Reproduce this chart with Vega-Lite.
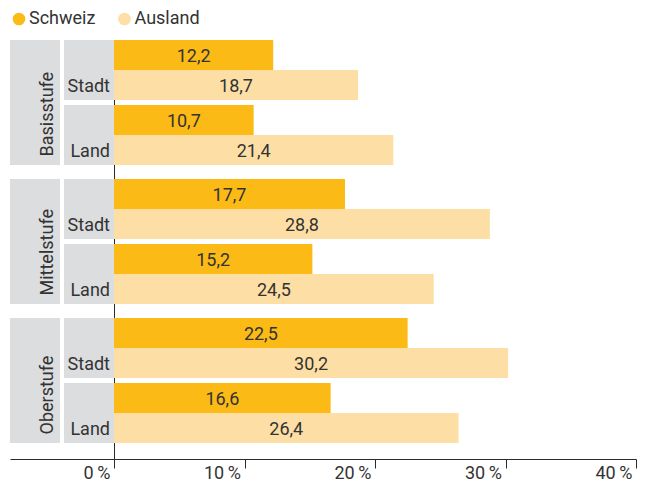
{
  "$schema": "https://vega.github.io/schema/vega-lite/v6.json",
  "padding": {"left": 10, "top": 10, "right": 0, "bottom": 0},
  "datasets": {
    "d": [
      {"Stufe": "Basisstufe", "Ort": "Stadt", "Herkunft": "Schweiz", "Wert": 12.2},
      {"Stufe": "Basisstufe", "Ort": "Stadt", "Herkunft": "Ausland", "Wert": 18.7},
      {"Stufe": "Basisstufe", "Ort": "Land", "Herkunft": "Schweiz", "Wert": 10.7},
      {"Stufe": "Basisstufe", "Ort": "Land", "Herkunft": "Ausland", "Wert": 21.4},
      {"Stufe": "Mittelstufe", "Ort": "Stadt", "Herkunft": "Schweiz", "Wert": 17.7},
      {"Stufe": "Mittelstufe", "Ort": "Stadt", "Herkunft": "Ausland", "Wert": 28.8},
      {"Stufe": "Mittelstufe", "Ort": "Land", "Herkunft": "Schweiz", "Wert": 15.2},
      {"Stufe": "Mittelstufe", "Ort": "Land", "Herkunft": "Ausland", "Wert": 24.5},
      {"Stufe": "Oberstufe", "Ort": "Stadt", "Herkunft": "Schweiz", "Wert": 22.5},
      {"Stufe": "Oberstufe", "Ort": "Stadt", "Herkunft": "Ausland", "Wert": 30.2},
      {"Stufe": "Oberstufe", "Ort": "Land", "Herkunft": "Schweiz", "Wert": 16.6},
      {"Stufe": "Oberstufe", "Ort": "Land", "Herkunft": "Ausland", "Wert": 26.4}
    ]
  },
  "config": {
    "font": "Roboto",
    "view": {"stroke": null},
    "axis": {"grid": false, "domainColor": "#2b2b2b", "tickColor": "#2b2b2b", "labelColor": "#333333"},
    "locale": {"number": {"decimal": ",", "thousands": "'", "grouping": [3], "currency": ["", " CHF"]}},
    "legend": {
      "orient": "top", "title": null, "direction": "horizontal", "symbolType": "circle",
      "symbolSize": 160, "symbolStrokeWidth": 0, "labelFontSize": 18, "labelColor": "#333333",
      "labelOffset": 1, "columnPadding": 19.5, "offset": 12, "padding": 0
    }
  },
  "spacing": 0,
  "vconcat": [
    {
      "bounds": "flush",
      "spacing": 0,
      "hconcat": [
        {
          "width": 104, "height": 139,
          "data": {"name": "d"},
          "transform": [{"filter": "datum.Stufe === 'Basisstufe' && datum.Herkunft === 'Schweiz'"}],
          "layer": [
            {
              "layer": [
                {
                  "mark": {"type": "rect", "color": "#dcdddf"},
                  "encoding": {
                    "x": {"datum": "Stufe", "type": "nominal", "scale": {"type": "band", "domain": ["Stufe", "Ort"], "paddingInner": 0.074, "paddingOuter": 0}, "axis": null},
                    "y": {"field": "Stufe", "type": "nominal", "scale": {"type": "band", "paddingInner": 0, "paddingOuter": 0.056, "align": 0}, "axis": null}
                  }
                },
                {
                  "transform": [{"filter": "datum.Ort === 'Stadt'"}],
                  "mark": {"type": "text", "angle": 270, "align": "left", "baseline": "alphabetic", "dx": -54, "dy": 18, "fontSize": 18, "color": "#333333"},
                  "encoding": {
                    "x": {"datum": "Stufe", "type": "nominal"},
                    "y": {"field": "Stufe", "type": "nominal"},
                    "text": {"field": "Stufe"}
                  }
                }
              ]
            },
            {
              "layer": [
                {
                  "mark": {"type": "rect", "color": "#dcdddf"},
                  "encoding": {
                    "x": {"datum": "Ort", "type": "nominal"},
                    "y": {"field": "Ort", "type": "nominal", "sort": ["Stadt", "Land"], "scale": {"type": "band", "paddingInner": 0.0769, "paddingOuter": 0.1077, "align": 0}, "axis": null}
                  }
                },
                {
                  "mark": {"type": "text", "align": "right", "baseline": "middle", "dx": 21, "dy": 2, "fontSize": 18, "color": "#333333"},
                  "encoding": {
                    "x": {"datum": "Ort", "type": "nominal"},
                    "y": {"field": "Ort", "type": "nominal", "sort": ["Stadt", "Land"], "bandPosition": 0.75},
                    "text": {"field": "Ort"}
                  }
                }
              ]
            }
          ],
          "resolve": {"scale": {"y": "independent"}, "axis": {"y": "independent"}}
        },
        {
          "width": 522, "height": 139,
          "data": {"name": "d"},
          "transform": [{"filter": "datum.Stufe === 'Basisstufe'"}],
          "layer": [
            {
              "mark": {"type": "bar"},
              "encoding": {
                "y": {"field": "Ort", "type": "nominal", "sort": ["Stadt", "Land"], "scale": {"paddingInner": 0.0769, "paddingOuter": 0.1077, "align": 0}, "axis": {"domain": true, "ticks": false, "labels": false, "title": null}},
                "yOffset": {"field": "Herkunft", "type": "nominal", "sort": ["Schweiz", "Ausland"], "scale": {"paddingInner": 0, "paddingOuter": 0}},
                "x": {"field": "Wert", "type": "quantitative", "scale": {"domain": [0, 40]}, "axis": null},
                "color": {"field": "Herkunft", "type": "nominal", "sort": ["Schweiz", "Ausland"], "scale": {"domain": ["Schweiz", "Ausland"], "range": ["#fbba16", "#fddfa5"]}}
              }
            },
            {
              "mark": {"type": "text", "baseline": "middle", "align": "center", "dy": 2, "fontSize": 18, "color": "#333333"},
              "encoding": {
                "y": {"field": "Ort", "type": "nominal", "sort": ["Stadt", "Land"]},
                "yOffset": {"field": "Herkunft", "type": "nominal", "sort": ["Schweiz", "Ausland"]},
                "x": {"field": "Wert", "type": "quantitative", "scale": {"domain": [0, 80]}, "axis": null},
                "text": {"field": "Wert", "type": "quantitative", "format": ".1f"}
              }
            }
          ],
          "resolve": {"scale": {"x": "independent"}}
        }
      ]
    },
    {
      "bounds": "flush",
      "spacing": 0,
      "hconcat": [
        {
          "width": 104, "height": 139,
          "data": {"name": "d"},
          "transform": [{"filter": "datum.Stufe === 'Mittelstufe' && datum.Herkunft === 'Schweiz'"}],
          "layer": [
            {
              "layer": [
                {
                  "mark": {"type": "rect", "color": "#dcdddf"},
                  "encoding": {
                    "x": {"datum": "Stufe", "type": "nominal", "scale": {"type": "band", "domain": ["Stufe", "Ort"], "paddingInner": 0.074, "paddingOuter": 0}, "axis": null},
                    "y": {"field": "Stufe", "type": "nominal", "scale": {"type": "band", "paddingInner": 0, "paddingOuter": 0.056, "align": 0}, "axis": null}
                  }
                },
                {
                  "transform": [{"filter": "datum.Ort === 'Stadt'"}],
                  "mark": {"type": "text", "angle": 270, "align": "left", "baseline": "alphabetic", "dx": -54, "dy": 18, "fontSize": 18, "color": "#333333"},
                  "encoding": {
                    "x": {"datum": "Stufe", "type": "nominal"},
                    "y": {"field": "Stufe", "type": "nominal"},
                    "text": {"field": "Stufe"}
                  }
                }
              ]
            },
            {
              "layer": [
                {
                  "mark": {"type": "rect", "color": "#dcdddf"},
                  "encoding": {
                    "x": {"datum": "Ort", "type": "nominal"},
                    "y": {"field": "Ort", "type": "nominal", "sort": ["Stadt", "Land"], "scale": {"type": "band", "paddingInner": 0.0769, "paddingOuter": 0.1077, "align": 0}, "axis": null}
                  }
                },
                {
                  "mark": {"type": "text", "align": "right", "baseline": "middle", "dx": 21, "dy": 2, "fontSize": 18, "color": "#333333"},
                  "encoding": {
                    "x": {"datum": "Ort", "type": "nominal"},
                    "y": {"field": "Ort", "type": "nominal", "sort": ["Stadt", "Land"], "bandPosition": 0.75},
                    "text": {"field": "Ort"}
                  }
                }
              ]
            }
          ],
          "resolve": {"scale": {"y": "independent"}, "axis": {"y": "independent"}}
        },
        {
          "width": 522, "height": 139,
          "data": {"name": "d"},
          "transform": [{"filter": "datum.Stufe === 'Mittelstufe'"}],
          "layer": [
            {
              "mark": {"type": "bar"},
              "encoding": {
                "y": {"field": "Ort", "type": "nominal", "sort": ["Stadt", "Land"], "scale": {"paddingInner": 0.0769, "paddingOuter": 0.1077, "align": 0}, "axis": {"domain": true, "ticks": false, "labels": false, "title": null}},
                "yOffset": {"field": "Herkunft", "type": "nominal", "sort": ["Schweiz", "Ausland"], "scale": {"paddingInner": 0, "paddingOuter": 0}},
                "x": {"field": "Wert", "type": "quantitative", "scale": {"domain": [0, 40]}, "axis": null},
                "color": {"field": "Herkunft", "type": "nominal", "sort": ["Schweiz", "Ausland"], "scale": {"domain": ["Schweiz", "Ausland"], "range": ["#fbba16", "#fddfa5"]}}
              }
            },
            {
              "mark": {"type": "text", "baseline": "middle", "align": "center", "dy": 2, "fontSize": 18, "color": "#333333"},
              "encoding": {
                "y": {"field": "Ort", "type": "nominal", "sort": ["Stadt", "Land"]},
                "yOffset": {"field": "Herkunft", "type": "nominal", "sort": ["Schweiz", "Ausland"]},
                "x": {"field": "Wert", "type": "quantitative", "scale": {"domain": [0, 80]}, "axis": null},
                "text": {"field": "Wert", "type": "quantitative", "format": ".1f"}
              }
            }
          ],
          "resolve": {"scale": {"x": "independent"}}
        }
      ]
    },
    {
      "bounds": "flush",
      "spacing": 0,
      "hconcat": [
        {
          "width": 104, "height": 141,
          "data": {"name": "d"},
          "transform": [{"filter": "datum.Stufe === 'Oberstufe' && datum.Herkunft === 'Schweiz'"}],
          "layer": [
            {
              "layer": [
                {
                  "mark": {"type": "rect", "color": "#dcdddf"},
                  "encoding": {
                    "x": {"datum": "Stufe", "type": "nominal", "scale": {"type": "band", "domain": ["Stufe", "Ort"], "paddingInner": 0.074, "paddingOuter": 0}, "axis": {"domain": true, "ticks": false, "labels": false, "title": null}},
                    "y": {"field": "Stufe", "type": "nominal", "scale": {"type": "band", "paddingInner": 0, "paddingOuter": 0.064, "align": 0}, "axis": null}
                  }
                },
                {
                  "transform": [{"filter": "datum.Ort === 'Stadt'"}],
                  "mark": {"type": "text", "angle": 270, "align": "left", "baseline": "alphabetic", "dx": -54, "dy": 18, "fontSize": 18, "color": "#333333"},
                  "encoding": {
                    "x": {"datum": "Stufe", "type": "nominal"},
                    "y": {"field": "Stufe", "type": "nominal"},
                    "text": {"field": "Stufe"}
                  }
                }
              ]
            },
            {
              "layer": [
                {
                  "mark": {"type": "rect", "color": "#dcdddf"},
                  "encoding": {
                    "x": {"datum": "Ort", "type": "nominal"},
                    "y": {"field": "Ort", "type": "nominal", "sort": ["Stadt", "Land"], "scale": {"type": "band", "paddingInner": 0.0769, "paddingOuter": 0.1231, "align": 0}, "axis": null}
                  }
                },
                {
                  "mark": {"type": "text", "align": "right", "baseline": "middle", "dx": 21, "dy": 2, "fontSize": 18, "color": "#333333"},
                  "encoding": {
                    "x": {"datum": "Ort", "type": "nominal"},
                    "y": {"field": "Ort", "type": "nominal", "sort": ["Stadt", "Land"], "bandPosition": 0.75},
                    "text": {"field": "Ort"}
                  }
                }
              ]
            }
          ],
          "resolve": {"scale": {"y": "independent"}, "axis": {"y": "independent"}}
        },
        {
          "width": 522, "height": 141,
          "data": {"name": "d"},
          "transform": [{"filter": "datum.Stufe === 'Oberstufe'"}],
          "layer": [
            {
              "mark": {"type": "bar"},
              "encoding": {
                "y": {"field": "Ort", "type": "nominal", "sort": ["Stadt", "Land"], "scale": {"paddingInner": 0.0769, "paddingOuter": 0.1231, "align": 0}, "axis": {"domain": true, "ticks": false, "labels": false, "title": null}},
                "yOffset": {"field": "Herkunft", "type": "nominal", "sort": ["Schweiz", "Ausland"], "scale": {"paddingInner": 0, "paddingOuter": 0}},
                "x": {
                  "field": "Wert", "type": "quantitative", "scale": {"domain": [0, 40]},
                  "axis": {
                    "values": [0, 10, 20, 30, 40], "title": null, "tickSize": 9, "labelFontSize": 18,
                    "labelAlign": "right", "labelBaseline": "top", "labelOffset": -4, "labelPadding": -4,
                    "labelFlush": false, "labelOverlap": false, "labelAngle": 0,
                    "labelExpr": "datum.value + '\u2009%'"
                  }
                },
                "color": {"field": "Herkunft", "type": "nominal", "sort": ["Schweiz", "Ausland"], "scale": {"domain": ["Schweiz", "Ausland"], "range": ["#fbba16", "#fddfa5"]}}
              }
            },
            {
              "mark": {"type": "text", "baseline": "middle", "align": "center", "dy": 2, "fontSize": 18, "color": "#333333"},
              "encoding": {
                "y": {"field": "Ort", "type": "nominal", "sort": ["Stadt", "Land"]},
                "yOffset": {"field": "Herkunft", "type": "nominal", "sort": ["Schweiz", "Ausland"]},
                "x": {"field": "Wert", "type": "quantitative", "scale": {"domain": [0, 80]}, "axis": null},
                "text": {"field": "Wert", "type": "quantitative", "format": ".1f"}
              }
            }
          ],
          "resolve": {"scale": {"x": "independent"}}
        }
      ]
    }
  ]
}
